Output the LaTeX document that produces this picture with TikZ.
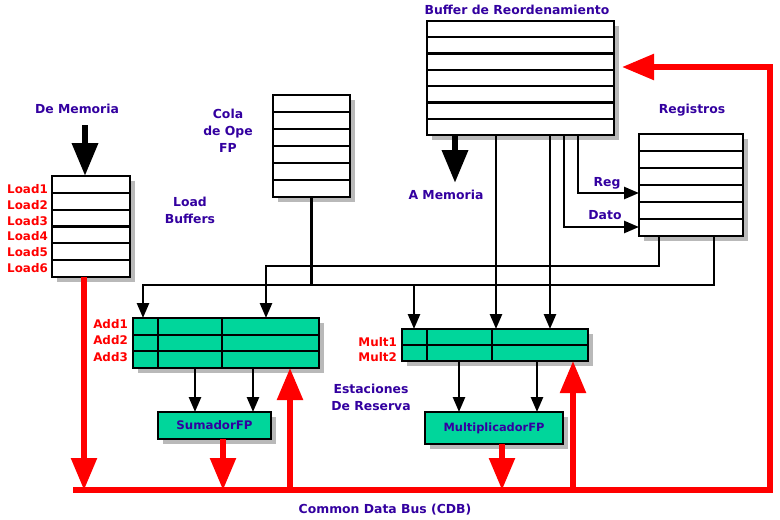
\documentclass[tikz,border=0pt]{standalone}
\usepackage{fontspec}
\setmainfont{DejaVu Sans}
\usetikzlibrary{arrows.meta,shadows,calc}
\definecolor{lbl}{RGB}{51,0,160}
\definecolor{rsgreen}{RGB}{0,214,155}
\definecolor{busred}{RGB}{255,0,0}
\begin{document}
\begin{tikzpicture}[x=1pt,y=-1pt,
  box/.style={draw=black,line width=2.8pt,fill=white,inner sep=0pt,outer sep=0pt,
    drop shadow={shadow xshift=5pt,shadow yshift=-5pt,fill=black!50,opacity=0.55}},
  rsbox/.style={box,fill=rsgreen},
  rowline/.style={line width=2.2pt},
  wire/.style={line width=2.5pt},
  warrow/.style={wire,-{Triangle[length=15pt,width=12pt]}},
  bigarrow/.style={line width=6.5pt,-{Triangle[length=33pt,width=25pt]}},
  redline/.style={draw=busred,line width=5.5pt},
  redarrow/.style={redline,-{Triangle[length=32pt,width=25pt]}},
  lab/.style={text=lbl,font=\bfseries\fontsize{12.4}{17}\selectfont,align=center,inner sep=0pt},
  rlab/.style={text=busred,font=\bfseries\fontsize{11.9}{13}\selectfont,anchor=east,inner sep=0pt}
]
\useasboundingbox (0,0) rectangle (780,520);
\fill[white] (0,0) rectangle (780,520);

% ---------- boxes ----------
\node[box,anchor=north west,minimum width=187pt,minimum height=114pt] (rob) at (427,21) {};
\foreach \i in {1,...,6}
  \draw[rowline] ($(rob.north west)!\i/7!(rob.south west)$) -- ($(rob.north east)!\i/7!(rob.south east)$);

\node[box,anchor=north west,minimum width=78pt,minimum height=101pt] (load) at (52,176) {};
\foreach \i in {1,...,5}
  \draw[rowline] ($(load.north west)!\i/6!(load.south west)$) -- ($(load.north east)!\i/6!(load.south east)$);

\node[box,anchor=north west,minimum width=77pt,minimum height=102pt] (cola) at (273,95) {};
\foreach \i in {1,...,5}
  \draw[rowline] ($(cola.north west)!\i/6!(cola.south west)$) -- ($(cola.north east)!\i/6!(cola.south east)$);

\node[box,anchor=north west,minimum width=104pt,minimum height=102pt] (regs) at (639,134) {};
\foreach \i in {1,...,5}
  \draw[rowline] ($(regs.north west)!\i/6!(regs.south west)$) -- ($(regs.north east)!\i/6!(regs.south east)$);

\node[rsbox,anchor=north west,minimum width=186pt,minimum height=50pt] (addrs) at (133,318) {};
\foreach \i in {1,2}
  \draw[rowline] ($(addrs.north west)!\i/3!(addrs.south west)$) -- ($(addrs.north east)!\i/3!(addrs.south east)$);
\draw[rowline] ($(addrs.north west)+(25,0)$) -- ($(addrs.south west)+(25,0)$);
\draw[rowline] ($(addrs.north west)+(89,0)$) -- ($(addrs.south west)+(89,0)$);

\node[rsbox,anchor=north west,minimum width=186pt,minimum height=32pt] (multrs) at (402,329) {};
\draw[rowline] ($(multrs.north west)!0.5!(multrs.south west)$) -- ($(multrs.north east)!0.5!(multrs.south east)$);
\draw[rowline] ($(multrs.north west)+(25,0)$) -- ($(multrs.south west)+(25,0)$);
\draw[rowline] ($(multrs.north west)+(90,0)$) -- ($(multrs.south west)+(90,0)$);

\node[rsbox,anchor=north west,minimum width=113pt,minimum height=27pt,text=lbl,font=\bfseries\fontsize{11.8}{13}\selectfont] (sum) at (158,412) {SumadorFP};
\node[rsbox,anchor=north west,minimum width=138pt,minimum height=32pt,text=lbl,font=\bfseries\fontsize{11.4}{13}\selectfont] (mul) at (425,412) {MultiplicadorFP};

% ---------- labels ----------
\node[lab] (tRob) at (517,10) {Buffer de Reordenamiento};
\node[lab] (tRegs) at (692,110) {Registros};
\node[lab] (tMem) at (77,109) {De Memoria};
\node[lab] (tCola) at (228,131) {Cola\\de Ope\\FP};
\node[lab] (tLoad) at (190,210) {Load\\Buffers};
\node[lab] (tAMem) at (446,195) {A Memoria};
\node[lab] (tReg) at (607,183) {Reg};
\node[lab] (tDato) at (605,215) {Dato};
\node[lab] (tEst) at (371,397) {Estaciones\\De Reserva};
\node[lab] (tCdb) at (385,510) {Common Data Bus (CDB)};

\node[rlab] (l1) at (48,189) {Load1};
\node[rlab] (l2) at (48,205) {Load2};
\node[rlab] (l3) at (48,221) {Load3};
\node[rlab] (l4) at (48,236) {Load4};
\node[rlab] (l5) at (48,252) {Load5};
\node[rlab] (l6) at (48,268) {Load6};
\node[rlab] (a1) at (128,324) {Add1};
\node[rlab] (a2) at (128,340) {Add2};
\node[rlab] (a3) at (128,357) {Add3};
\node[rlab] (m1) at (397,342) {Mult1};
\node[rlab] (m2) at (397,357) {Mult2};

% ---------- black connectors ----------
\draw[bigarrow] ($(load.north west)+(33,-51)$) -- ($(load.north west)+(33,0)$);
\draw[bigarrow] ($(rob.south west)+(28,0)$) -- ($(rob.south west)+(28,48)$);

\draw[warrow] ($(rob.south west)+(151,0)$) |- ($(regs.north west)+(0,59)$);
\draw[warrow] ($(rob.south west)+(137,0)$) |- ($(regs.north west)+(0,93)$);
\draw[warrow] ($(rob.south west)+(69,0)$) -- ($(multrs.north west)+(94,0)$);
\draw[warrow] ($(rob.south west)+(123,0)$) -- ($(multrs.north west)+(148,0)$);

\coordinate (j1) at ($(addrs.north west)+(133,-52)$);
\coordinate (j2) at ($(addrs.north west)+(10,-33)$);
\coordinate (j3) at ($(multrs.north west)+(12,-44)$);
\draw[warrow] ($(regs.south west)+(20,0)$) |- (j1) -- ($(addrs.north west)+(133,0)$);
\draw[warrow] ($(regs.south west)+(75,0)$) |- (j2) -- ($(addrs.north west)+(10,0)$);
\draw[warrow] (j3) -- ($(multrs.north west)+(12,0)$);
\draw[wire] (cola.south) -- (cola.south |- j2);

\draw[warrow] ($(addrs.south west)+(62,0)$) -- ($(sum.north west)+(37,0)$);
\draw[warrow] ($(addrs.south west)+(120,0)$) -- ($(sum.north west)+(95,0)$);
\draw[warrow] ($(multrs.south west)+(57,0)$) -- ($(mul.north west)+(34,0)$);
\draw[warrow] ($(multrs.south west)+(135,0)$) -- ($(mul.north west)+(112,0)$);

% ---------- red bus ----------
\coordinate (cdbL) at (73,490);
\coordinate (cdbR) at (770,490);
\draw[redarrow] (cdbL) -- (cdbR) |- ($(rob.north east)+(8,46)$);

\coordinate (r1) at ($(load.south west)+(32,0)$);
\coordinate (r2) at ($(sum.south west)+(65,0)$);
\coordinate (r3) at ($(addrs.south west)+(157,0)$);
\coordinate (r4) at ($(mul.south west)+(77,0)$);
\coordinate (r5) at ($(multrs.south west)+(171,0)$);
\draw[redarrow] (r1) -- (r1 |- cdbL);
\draw[redarrow] (r2) -- (r2 |- cdbL);
\draw[redarrow] (r3 |- cdbL) -- (r3);
\draw[redarrow] (r4) -- (r4 |- cdbL);
\draw[redarrow] (r5 |- cdbL) -- (r5);
\end{tikzpicture}
\end{document}
